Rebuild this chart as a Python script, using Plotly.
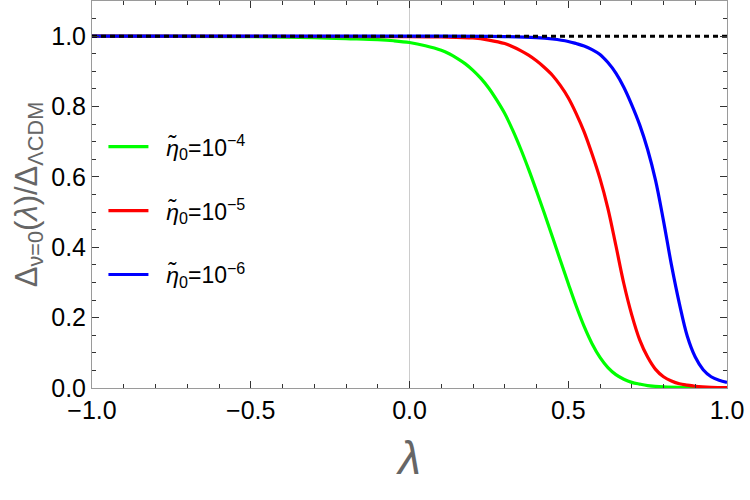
import plotly.graph_objects as go

# ---- data ----
green_x = [-1.0, -0.5, -0.3, -0.2, -0.1, -0.05, 0.0, 0.05, 0.1, 0.125, 0.15, 0.175, 0.2, 0.225, 0.25, 0.275, 0.3,
           0.325, 0.35, 0.375, 0.4, 0.425, 0.45, 0.475, 0.5, 0.525, 0.55, 0.575, 0.6, 0.625, 0.65, 0.675, 0.7,
           0.725, 0.75, 0.8, 0.9, 1.0]
green_y = [1.0, 0.999, 0.996, 0.993, 0.990, 0.987, 0.982, 0.973, 0.960, 0.950, 0.937, 0.922, 0.903, 0.88, 0.852, 0.818, 0.78,
           0.733, 0.68, 0.622, 0.56, 0.496, 0.43, 0.363, 0.297, 0.233, 0.175, 0.126, 0.087, 0.058, 0.038, 0.025, 0.016,
           0.011, 0.007, 0.003, 0.001, 0.0]

red_x = [-1.0, 0.0, 0.1, 0.2, 0.25, 0.3, 0.325, 0.35, 0.375, 0.4, 0.425, 0.45, 0.475, 0.5, 0.525, 0.55, 0.575, 0.6,
         0.625, 0.65, 0.675, 0.7, 0.725, 0.75, 0.775, 0.8, 0.825, 0.85, 0.875, 0.9, 0.95, 1.0]
red_y = [1.0, 0.999, 0.998, 0.995, 0.989, 0.979, 0.970, 0.959, 0.946, 0.93, 0.911, 0.889, 0.86, 0.825, 0.78, 0.728, 0.665, 0.595,
         0.51, 0.405, 0.297, 0.208, 0.137, 0.088, 0.053, 0.032, 0.02, 0.012, 0.008, 0.005, 0.002, 0.001]

blue_x = [-1.0, 0.0, 0.3, 0.4, 0.45, 0.5, 0.525, 0.55, 0.575, 0.6, 0.625, 0.65, 0.675, 0.7, 0.725, 0.75, 0.775, 0.8,
          0.825, 0.85, 0.875, 0.9, 0.925, 0.95, 0.975, 1.0]
blue_y = [1.0, 1.0, 0.999, 0.996, 0.992, 0.985, 0.979, 0.972, 0.962, 0.948, 0.925, 0.895, 0.855, 0.805, 0.748, 0.678, 0.59, 0.475,
          0.35, 0.24, 0.147, 0.088, 0.052, 0.032, 0.022, 0.016]

ref_x = [-1.0, 1.0]
ref_y = [1.0, 1.0]

names = ["&nbsp;&nbsp;<i>η̃</i><sub>0</sub>=10<sup>−4</sup>",
         "&nbsp;&nbsp;<i>η̃</i><sub>0</sub>=10<sup>−5</sup>",
         "&nbsp;&nbsp;<i>η̃</i><sub>0</sub>=10<sup>−6</sup>"]
colors = ["#00ff00", "#ff0000", "#0000ff"]

x_ticks = [-1.0, -0.5, 0.0, 0.5, 1.0]
y_ticks = [0.0, 0.2, 0.4, 0.6, 0.8, 1.0]

FONT = "Liberation Sans, Arial, sans-serif"

fig = go.Figure()
for i, (xs, ys) in enumerate([(green_x, green_y), (red_x, red_y), (blue_x, blue_y)]):
    fig.add_trace(go.Scatter(x=xs, y=ys, mode="lines", name=names[i],
                             legendgroup=f"g{i}",
                             line=dict(color=colors[i], width=3.2, shape="spline", smoothing=1.0)))
fig.add_trace(go.Scatter(x=ref_x, y=ref_y, mode="lines", showlegend=False,
                         line=dict(color="black", width=3, dash="5px,4px")))

axis_common = dict(
    showline=True, linecolor="#9a9a9a", linewidth=1, mirror="ticks",
    ticks="inside", ticklen=7, tickwidth=1, tickcolor="#333333",
    showgrid=False,
    tickfont=dict(family=FONT, size=25, color="black"),
)

fig.update_xaxes(range=[-1, 1], tickvals=x_ticks, tickformat=".1f",
                 zeroline=True, zerolinecolor="#cccccc", zerolinewidth=1,
                 minor=dict(dtick=0.1, ticks="inside", ticklen=4, tickcolor="#333333", showgrid=False),
                 title=dict(text="<i>λ</i>", font=dict(family=FONT, size=46, color="#666666"), standoff=18),
                 **axis_common)
fig.update_yaxes(range=[0, 1.1], tickvals=y_ticks, tickformat=".1f",
                 zeroline=False,
                 minor=dict(dtick=0.05, ticks="inside", ticklen=4, tickcolor="#333333", showgrid=False),
                 title=dict(text="Δ<sub>ν=0</sub>(<i>λ</i>)/Δ<sub>ΛCDM</sub>",
                            font=dict(family=FONT, size=31, color="#666666"), standoff=4),
                 **axis_common)

fig.update_layout(
    width=750, height=500,
    margin=dict(l=92, r=23, t=1, b=112),
    plot_bgcolor="white", paper_bgcolor="white",
    legend=dict(x=0.018, y=0.679, xanchor="left", yanchor="top",
                bgcolor="rgba(0,0,0,0)", font=dict(family=FONT, size=23, color="black"),
                tracegroupgap=31, itemwidth=40),
    font=dict(family=FONT),
)

fig.write_html("out.html")
